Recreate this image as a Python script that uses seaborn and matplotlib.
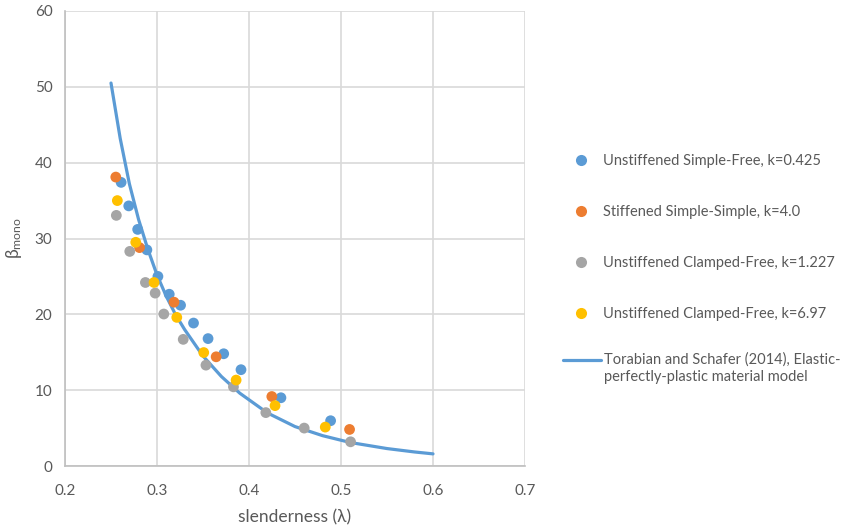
import numpy as np
import pandas as pd
import matplotlib
matplotlib.use("Agg")
import matplotlib.pyplot as plt
import seaborn as sns
from matplotlib.lines import Line2D

# ---- data ----
sf_x = [0.261, 0.2693, 0.279, 0.289, 0.301, 0.3133, 0.3256, 0.3397, 0.3555, 0.3725, 0.3913, 0.4347, 0.4887]
sf_y = [37.4, 34.3, 31.2, 28.5, 25.0, 22.65, 21.2, 18.85, 16.8, 14.8, 12.7, 9.0, 5.97]

ss_x = [0.2552, 0.281, 0.3185, 0.3643, 0.4248, 0.5093]
ss_y = [38.1, 28.8, 21.6, 14.4, 9.16, 4.82]

cf1_x = [0.2558, 0.2704, 0.2874, 0.298, 0.3074, 0.3285, 0.3532, 0.3831, 0.4183, 0.46, 0.5104]
cf1_y = [33.05, 28.3, 24.2, 22.8, 20.04, 16.7, 13.3, 10.44, 7.04, 5.0, 3.19]

cf2_x = [0.2569, 0.2769, 0.2968, 0.3215, 0.3508, 0.386, 0.4283, 0.4829]
cf2_y = [35.0, 29.5, 24.2, 19.6, 14.96, 11.33, 7.96, 5.13]

curve_x = [0.25, 0.26, 0.27, 0.28, 0.29, 0.30, 0.31, 0.32, 0.33, 0.35, 0.37, 0.39,
           0.42, 0.45, 0.48, 0.50, 0.51, 0.53, 0.55, 0.57, 0.58, 0.60]
curve_y = [50.5, 43.2, 37.2, 32.5, 28.6, 25.2, 22.4, 20.0, 18.0, 14.5, 11.8, 9.6,
           7.0, 5.2, 4.0, 3.4, 3.1, 2.7, 2.3, 2.0, 1.85, 1.6]

series_names = ["Unstiffened Simple-Free, k=0.425",
                "Stiffened Simple-Simple, k=4.0",
                "Unstiffened Clamped-Free, k=1.227",
                "Unstiffened Clamped-Free, k=6.97"]
curve_name = "Torabian and Schafer (2014), Elastic-\nperfectly-plastic material model"
colors = ["#5B9BD5", "#ED7D31", "#A5A5A5", "#FFC000"]

x_ticks = [0.2, 0.3, 0.4, 0.5, 0.6, 0.7]
y_ticks = [0, 10, 20, 30, 40, 50, 60]

# ---- build frames ----
frames = []
for name, xs, ys in zip(series_names, [sf_x, ss_x, cf1_x, cf2_x], [sf_y, ss_y, cf1_y, cf2_y]):
    frames.append(pd.DataFrame({"x": xs, "y": ys, "series": name}))
pts = pd.concat(frames, ignore_index=True)
curve = pd.DataFrame({"x": curve_x, "y": curve_y})

sns.set_theme(style="white")
plt.rcParams["font.family"] = ["Lato", "DejaVu Sans"]
plt.rcParams["mathtext.default"] = "regular"

W, H = 847, 527
fig = plt.figure(figsize=(W / 100, H / 100), dpi=100)
ax = fig.add_axes([65 / W, 1 - 466 / H, (525 - 65) / W, (466 - 11) / H])

txt = "#595959"
grid_c = "#D9D9D9"
line_c = "#5B9BD5"

sns.lineplot(data=curve, x="x", y="y", ax=ax, color=line_c, linewidth=2.3,
             zorder=2, legend=False, sort=False)
sns.scatterplot(data=pts, x="x", y="y", hue="series", hue_order=series_names,
                palette=colors, s=60, linewidth=0, ax=ax, zorder=3, legend=False)

ax.set_xlim(0.2, 0.7)
ax.set_ylim(0, 60)
ax.set_xticks(x_ticks)
ax.set_yticks(y_ticks)
ax.set_xticklabels([f"{v:g}" for v in x_ticks])
ax.set_yticklabels([f"{v:g}" for v in y_ticks])
ax.grid(True, color=grid_c, linewidth=1.2)
ax.set_axisbelow(True)
for s in ["top", "right"]:
    ax.spines[s].set_visible(False)
for s in ["left", "bottom"]:
    ax.spines[s].set_color("#BFBFBF")
    ax.spines[s].set_linewidth(1.2)
ax.tick_params(axis="x", colors=txt, labelsize=11, length=0, pad=13)
ax.tick_params(axis="y", colors=txt, labelsize=11, length=0, pad=9)
ax.set_xlabel("slenderness (λ)", color=txt, fontsize=12.5, labelpad=8)
ax.set_ylabel(r"β$_{mono}$", color=txt, fontsize=12.5, labelpad=8)

# legend: the four scatter series
handles = [Line2D([0], [0], marker="o", linestyle="none", markersize=8,
                  markerfacecolor=c, markeredgewidth=0) for c in colors]
leg = fig.legend(handles, series_names, loc="upper left",
                 bbox_to_anchor=(555 / W, 1 - 148 / H), frameon=False,
                 fontsize=10.5, labelspacing=2.55, handlelength=2.8,
                 handletextpad=0.1, borderaxespad=0)
for t in leg.get_texts():
    t.set_color(txt)

# legend entry for the curve (handle aligned with first text line)
fig.add_artist(Line2D([563 / W, 601 / W], [1 - 360 / H, 1 - 360 / H],
                      color=line_c, linewidth=2.3, transform=fig.transFigure))
fig.text(604 / W, 1 - 352 / H, curve_name, color=txt, fontsize=10.5,
         ha="left", va="top", linespacing=1.35,
         transform=fig.transFigure)

fig.savefig("out.png", dpi=100)
